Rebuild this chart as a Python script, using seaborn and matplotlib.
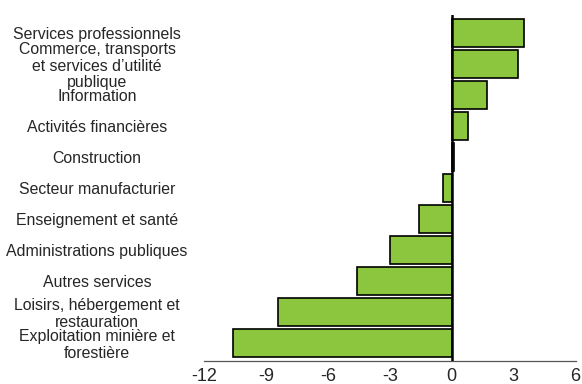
import matplotlib
matplotlib.use("Agg")
import matplotlib.pyplot as plt
import seaborn as sns
import pandas as pd

secteurs = [
    "Services professionnels",
    "Commerce, transports\net services d\u2019utilité\npublique",
    "Information",
    "Activités financières",
    "Construction",
    "Secteur manufacturier",
    "Enseignement et santé",
    "Administrations publiques",
    "Autres services",
    "Loisirs, hébergement et\nrestauration",
    "Exploitation minière et\nforestière",
]
variation = [3.5, 3.2, 1.7, 0.8, 0.1, -0.4, -1.6, -3.0, -4.6, -8.4, -10.6]
xticks = [-12, -9, -6, -3, 0, 3, 6]

df = pd.DataFrame({"secteur": secteurs, "variation": variation})

sns.set_style("white")
plt.rcParams["font.family"] = ["Liberation Sans", "DejaVu Sans"]

fig = plt.figure(figsize=(5.82, 3.84), dpi=100)
ax = fig.add_axes([0.3505, 0.06, 0.6385, 0.901])

sns.barplot(data=df, x="variation", y="secteur", orient="h", color="#8CC63F",
            saturation=1, width=0.9, edgecolor="black", linewidth=1.2, ax=ax)

ax.axvline(0, color="black", linewidth=1.8, zorder=5)
ax.set_xlim(-12, 6)
ax.set_ylim(len(secteurs) - 0.42, -0.58)
ax.set_xticks(xticks)
ax.set_xticklabels([str(t) for t in xticks], fontsize=13)
ax.set_xlabel("")
ax.set_ylabel("")

for s in ["top", "right", "left"]:
    ax.spines[s].set_visible(False)
ax.spines["bottom"].set_color("#555555")
ax.spines["bottom"].set_linewidth(0.9)

ax.tick_params(axis="both", length=0)
ax.tick_params(axis="x", pad=5)
ax.tick_params(axis="y", pad=77)
for lab in ax.get_yticklabels():
    lab.set_horizontalalignment("center")
    lab.set_fontsize(11.4)
    lab.set_linespacing(1.1)

fig.savefig("out.png", dpi=100)
